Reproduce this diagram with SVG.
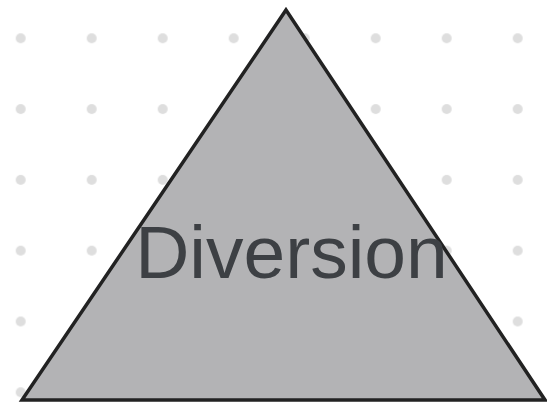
<svg xmlns="http://www.w3.org/2000/svg" width="547" height="407" viewBox="0 0 547 407">
<style>
.dot{fill:#dedede}
.tri{fill:#b3b3b5;stroke:#222;stroke-width:3.5;stroke-linejoin:miter}
.lbl{font-family:"Liberation Sans",Arial,sans-serif;font-size:75px;fill:#3d4044}
</style>
<defs>
<pattern id="grid" x="15.7" y="33.3" width="71" height="70.8" patternUnits="userSpaceOnUse">
<circle class="dot" cx="5" cy="5" r="5"/>
</pattern>
</defs>
<rect width="547" height="407" fill="#fff"/>
<rect width="547" height="407" fill="url(#grid)"/>
<g id="diversion">
<polygon class="tri" points="286,10 545,400 22,400"/>
<text class="lbl" x="291.5" y="278" text-anchor="middle">Diversion</text>
</g>
<g id="connectors"/>
</svg>
